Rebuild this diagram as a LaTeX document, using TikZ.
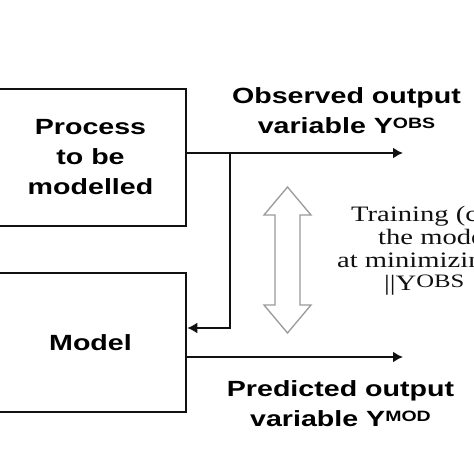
\documentclass[tikz,border=0pt]{standalone}
\usepackage{fontspec}
\usepackage{tikz}
\usetikzlibrary{arrows.meta,positioning,calc}
\newfontfamily\lblfont[FakeStretch=1.3]{Liberation Sans}
\newfontfamily\notefont[FakeStretch=1.3]{Liberation Serif}
\definecolor{ink}{HTML}{111111}
\definecolor{hollowgray}{HTML}{9A9A9A}
\newcommand{\lblsup}[1]{\raisebox{5pt}{\fontsize{15}{15}\selectfont #1}}
\newcommand{\notesup}[1]{\raisebox{3pt}{\fontsize{19}{19}\selectfont #1}}
\tikzset{
  procbox/.style={draw=ink, line width=2.6pt, inner sep=0pt, align=center,
                  font=\lblfont\bfseries\fontsize{22}{30}\selectfont},
  outlabel/.style={align=center, inner sep=0pt,
                   font=\lblfont\bfseries\fontsize{22}{30}\selectfont},
  notetext/.style={anchor=base west, inner sep=0pt, text=ink,
                   font=\notefont\fontsize{22}{23}\selectfont},
  flowarr/.style={-{Latex[length=10pt,width=11pt]}, line width=1.8pt, draw=ink},
  hollowarr/.style={draw=hollowgray, line width=1.3pt, fill=white, line join=miter}
}

\begin{document}
\begin{tikzpicture}[x=1pt,y=-1pt]
  \useasboundingbox (0,0) rectangle (474,474);
  \clip (0,0) rectangle (474,474);
  \fill[white] (0,0) rectangle (474,474);
  % the two blocks
  \node[procbox, minimum width=191, minimum height=137] (proc) at (90.5,157.5)
    {Process\\to be\\modelled};
  \node[procbox, minimum width=191, minimum height=139] (model) at (90.5,342.5) {Model};
  % outputs
  \coordinate (obsend) at (403,153);
  \coordinate (branch) at (230,153);
  \coordinate (modend) at (403,357);
  \draw[flowarr] (proc.east |- obsend) -- (obsend);
  \draw[flowarr] (branch) |- ([yshift=14.5pt]model.east);
  \draw[flowarr] (model.east |- modend) -- (modend);
  \node[outlabel] (obslbl) at (346.5,111) {Observed output\\variable Y\lblsup{OBS}};
  \node[outlabel] (modlbl) at (340.5,404) {Predicted output\\variable Y\lblsup{MOD}};
  % training arrow and note
  \draw[hollowarr] (287.5,187) -- (311,215) -- (300,215) -- (300,305) -- (311,305)
    -- (287.5,333) -- (264,305) -- (275,305) -- (275,215) -- (264,215) -- cycle;
  \node[notetext] (train1) at (351,221) {Training (c};
  \node[notetext] (train2) at (378,244) {the mode};
  \node[notetext] (train3) at (337,267) {at minimizin};
  \node[notetext] (train4) at (384,290) {||Y\notesup{OBS}};
\end{tikzpicture}
\end{document}
